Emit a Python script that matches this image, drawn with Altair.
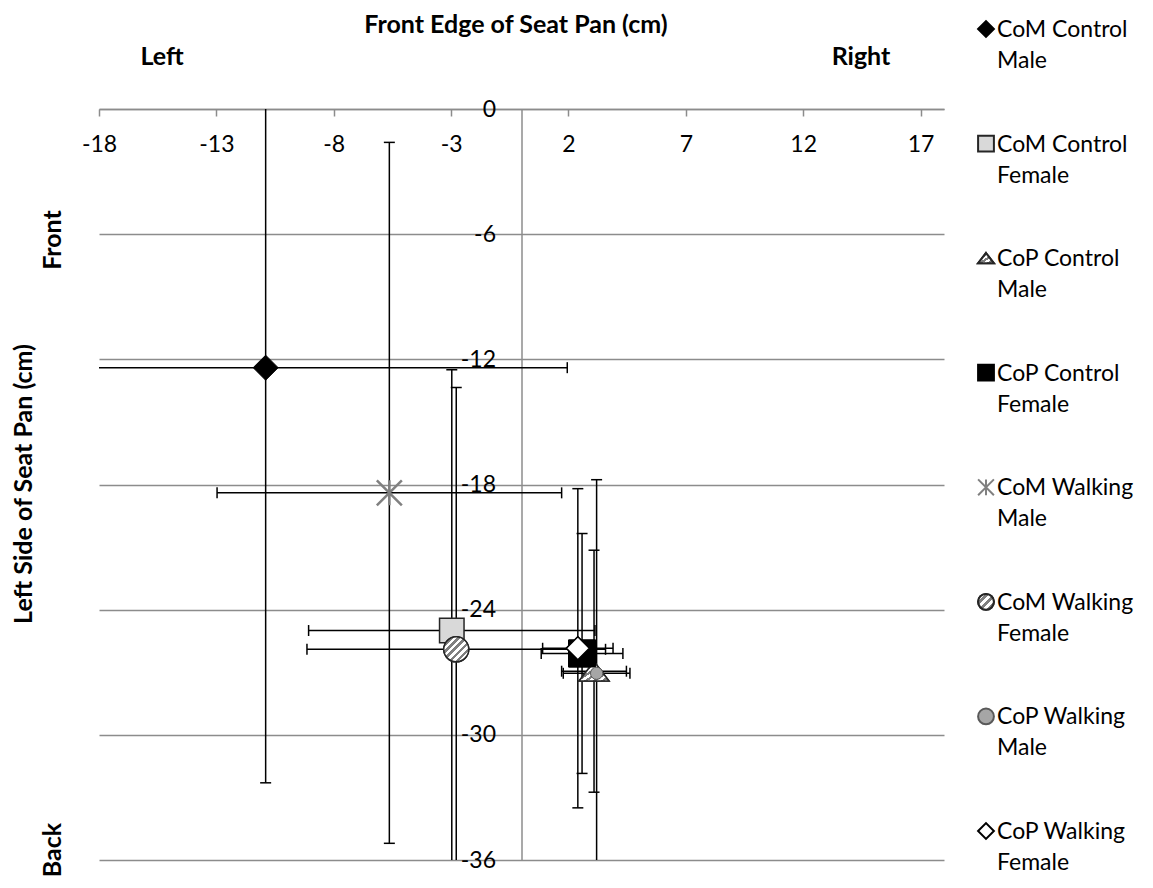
import altair as alt
import pandas as pd

# ---------------- data ----------------
series = ["CoM Control Male", "CoM Control Female", "CoP Control Male", "CoP Control Female",
          "CoM Walking Male", "CoM Walking Female", "CoP Walking Male", "CoP Walking Female"]
legend_labels = ["CoM Control\nMale", "CoM Control\nFemale", "CoP Control\nMale",
                 "CoP Control\n\u00a0\u00a0\u00a0Female", "CoM Walking\nMale", "CoM Walking\nFemale",
                 "CoP Walking\nMale", "CoP Walking\nFemale"]
x_mean = [-10.9, -2.97, 3.09, 2.58, -5.63, -2.78, 3.2, 2.4]
y_mean = [-12.4, -25.0, -26.95, -26.1, -18.4, -25.9, -27.05, -25.85]
x_err = [12.85, 6.1, 1.38, 1.74, 7.34, 6.36, 1.42, 1.5]
y_err = [19.9, 12.5, 5.8, 5.75, 16.8, 12.55, 9.28, 7.65]
x_ticks = [-18, -13, -8, -3, 2, 7, 12, 17]
y_ticks = [0, -6, -12, -18, -24, -30, -36]

# ---------------- styles ----------------
FONT = "Lato"
ASTERISK = "M-1,-1L1,1M-1,1L1,-1M0,-1L0,1"
TRIANGLE = "M0,-0.65L1,0.65L-1,0.65Z"
shapes = ["diamond", "square", TRIANGLE, "square", ASTERISK, "circle", "circle", "diamond"]
fills = ["#000000", "#d9d9d9", "#bfbfbf", "#000000", "transparent", "#bfbfbf", "#a6a6a6", "#ffffff"]
strokes = ["#000000", "#262626", "#262626", "#000000", "#808080", "#262626", "#595959", "#000000"]
sizes = [625, 600, 900, 729, 625, 625, 150, 529]
widths = [1, 1.5, 1.5, 1, 2.5, 1.5, 1, 1.5]
hatched = ["CoP Control Male", "CoM Walking Female"]
redraw = ["CoP Control Female", "CoP Walking Male", "CoP Walking Female"]


def stripes(n, c1, c2):
    stops = []
    for k in range(n):
        a, b, c = k / n, (k + 0.5) / n, (k + 1) / n
        stops += [{"offset": a, "color": c1}, {"offset": b, "color": c1},
                  {"offset": b, "color": c2}, {"offset": c, "color": c2}]
    return {"gradient": "linear", "x1": 0, "y1": 0, "x2": 1, "y2": 1, "stops": stops}


df = pd.DataFrame({
    "series": series, "label": legend_labels,
    "x": x_mean, "y": y_mean,
    "xlo": [m - e for m, e in zip(x_mean, x_err)], "xhi": [m + e for m, e in zip(x_mean, x_err)],
    "ylo": [m - e for m, e in zip(y_mean, y_err)], "yhi": [m + e for m, e in zip(y_mean, y_err)],
})

W, H = 845, 751
GRID = "#8c8c8c"

xscale = alt.Scale(domain=[-18, 18], nice=False, zero=False)
yscale = alt.Scale(domain=[-36, 0], nice=False, zero=False)

AX = alt.Axis(
    orient="bottom", offset=-H, values=x_ticks, grid=False, title=None,
    domainColor=GRID, domainWidth=1.5, tickColor=GRID, tickWidth=1.5, tickSize=7,
    labelPadding=17, labelFont=FONT, labelFontSize=23, labelColor="black",
    labelFlush=False, labelOverlap=False, labelExpr="'' + datum.value")
AY = alt.Axis(
    orient="left", offset=-(W * 18 / 36), values=y_ticks, grid=True, gridColor=GRID, gridWidth=1.5,
    domainColor=GRID, domainWidth=1.5, ticks=False, tickSize=0, title=None,
    labelPadding=26, labelFont=FONT, labelFontSize=23, labelColor="black",
    labelFlush=False, labelOverlap=False, labelExpr="'' + datum.value")


def X(f):
    return alt.X(f + ":Q", scale=xscale, axis=AX)


def Y(f):
    return alt.Y(f + ":Q", scale=yscale, axis=AY)


shape_enc = alt.Shape("series:N", scale=alt.Scale(domain=series, range=shapes), legend=None)
fill_enc = alt.Fill("series:N", scale=alt.Scale(domain=series, range=fills), legend=None)
stroke_enc = alt.Stroke("series:N", scale=alt.Scale(domain=series, range=strokes), legend=None)
size_enc = alt.Size("series:N", scale=alt.Scale(type="ordinal", domain=series, range=sizes), legend=None)
sw_enc = alt.StrokeWidth("series:N", scale=alt.Scale(type="ordinal", domain=series, range=widths), legend=None)

base = alt.Chart(df)
rule = dict(clip=True, color="black", strokeWidth=1.5)
hbar = base.mark_rule(**rule).encode(x=X("xlo"), x2="xhi:Q", y=Y("y"))
vbar = base.mark_rule(**rule).encode(x=X("x"), y=Y("ylo"), y2="yhi:Q")
cap = dict(clip=True, color="black", thickness=1.5, size=11, opacity=1)
hcap1 = base.mark_tick(orient="vertical", **cap).encode(x=X("xlo"), y=Y("y"))
hcap2 = base.mark_tick(orient="vertical", **cap).encode(x=X("xhi"), y=Y("y"))
vcap1 = base.mark_tick(orient="horizontal", **cap).encode(x=X("x"), y=Y("ylo"))
vcap2 = base.mark_tick(orient="horizontal", **cap).encode(x=X("x"), y=Y("yhi"))

pts = base.mark_point(filled=True, opacity=1).encode(
    x=X("x"), y=Y("y"), shape=shape_enc, fill=fill_enc, stroke=stroke_enc,
    size=size_enc, strokeWidth=sw_enc)
hatch = base.mark_point(filled=True, opacity=1, fill=stripes(7, "#7f7f7f", "#ffffff")).encode(
    x=X("x"), y=Y("y"), shape=shape_enc, stroke=stroke_enc, size=size_enc, strokeWidth=sw_enc
).transform_filter(alt.FieldOneOfPredicate(field="series", oneOf=hatched))
again = pts.transform_filter(alt.FieldOneOfPredicate(field="series", oneOf=redraw))

main = alt.layer(hbar, vbar, hcap1, hcap2, vcap1, vcap2, pts, hatch, again)

# ---------------- legend (drawn from the same series scales) ----------------
LY = alt.Y("series:N", sort=series,
           scale=alt.Scale(type="point", domain=series, range=[-80, 722], padding=0), axis=None)
lpts = base.mark_point(filled=True, opacity=1, size=250).encode(
    x=alt.value(887), y=LY, shape=shape_enc, fill=fill_enc, stroke=stroke_enc)
lhatch = base.mark_point(filled=True, opacity=1, size=250, fill=stripes(4, "#7f7f7f", "#ffffff")).encode(
    x=alt.value(887), y=LY, shape=shape_enc, stroke=stroke_enc
).transform_filter(alt.FieldOneOfPredicate(field="series", oneOf=hatched))
ltext = base.mark_text(align="left", baseline="top", dy=-10, lineBreak="\n", lineHeight=31,
                       font=FONT, fontSize=23, color="black").encode(
    x=alt.value(898), y=LY, text="label:N")
legend = alt.layer(lpts, lhatch, ltext)


# ---------------- annotations ----------------
def note(text, x, y, angle=0):
    return alt.Chart(alt.Data(values=[{"t": text}])).mark_text(
        font=FONT, fontSize=25, fontWeight="bold", color="black",
        align="center", baseline="middle", angle=angle).encode(
        x=alt.value(x), y=alt.value(y), text="t:N")


annots = [
    note("Front Edge of Seat Pan (cm)", 417, -84),
    note("Left", 63, -52),
    note("Right", 762, -52),
    note("Left Side of Seat Pan (cm)", -75, 375, 270),
    note("Front", -46, 131, 270),
    note("Back", -46, 741, 270),
]

chart = alt.layer(main, legend, *annots).resolve_scale(y="independent").properties(
    width=W, height=H,
    padding={"left": 91, "top": 101, "right": 201, "bottom": 20},
    autosize=alt.AutoSizeParams(type="none"),
).configure_view(strokeWidth=0)

chart.save("out.html", embed_options={"renderer": "svg", "actions": False})
